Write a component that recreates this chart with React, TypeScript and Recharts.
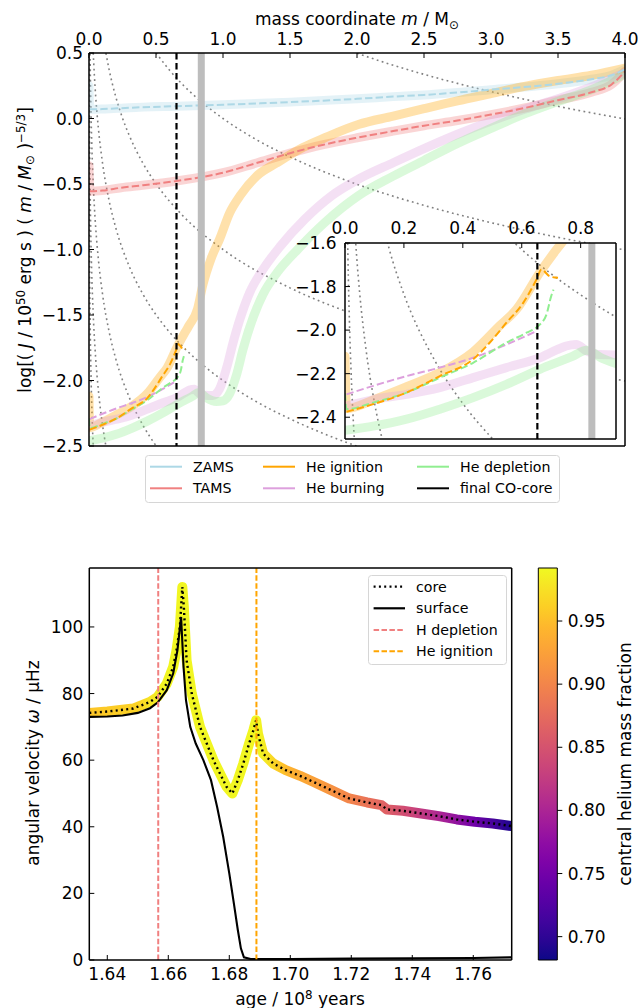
import React from 'react';
import { ComposedChart, Line, XAxis, YAxis, ReferenceLine, ReferenceArea, Legend, CartesianGrid } from 'recharts';

const FONT = '"DejaVu Sans", Verdana, sans-serif';
const FS = 17;
const LFS = 14.2;
const SUP = 11.9;

type P = [number, number];
const mv = (pts: P[]) => pts.map(([m, v]) => ({ m, v }));
const aw = (pts: P[]) => pts.map(([age, w]) => ({ age, w }));

// ---------------- top panel ----------------
const massTicks = [0, 0.5, 1, 1.5, 2, 2.5, 3, 3.5, 4];
const logJTicks = [-2.5, -2, -1.5, -1, -0.5, 0, 0.5];
const insetMassTicks = [0, 0.2, 0.4, 0.6, 0.8];
const insetLogJTicks = [-2.4, -2.2, -2.0, -1.8, -1.6];

const zamsBand: P[] = [[0, 0.25], [0.005, 0.07], [0.1, 0.072], [0.3, 0.082], [0.653, 0.094], [1.0, 0.105], [1.5, 0.125], [2.0, 0.15], [2.27, 0.167], [2.5, 0.18], [3.0, 0.22], [3.5, 0.265], [3.75, 0.3], [3.9, 0.33], [4.0, 0.375]];
const tamsBand: P[] = [[0, -0.36], [0.005, -0.555], [0.1, -0.55], [0.24, -0.528], [0.4, -0.51], [0.653, -0.477], [1.0, -0.414], [1.25, -0.34], [1.5, -0.265], [1.75, -0.2], [2.0, -0.147], [2.27, -0.096], [2.5, -0.055], [2.75, -0.015], [3.0, 0.03], [3.25, 0.08], [3.5, 0.14], [3.75, 0.2], [3.9, 0.26], [4.0, 0.36]];
const heIgnBand: P[] = [[0, -2.12], [0.005, -2.36], [0.1, -2.318], [0.209, -2.26], [0.322, -2.195], [0.435, -2.1], [0.525, -1.98], [0.582, -1.905], [0.661, -1.737], [0.718, -1.63], [0.75, -1.575], [0.81, -1.454], [0.848, -1.277], [0.911, -1.07], [0.975, -0.92], [1.05, -0.72], [1.127, -0.59], [1.25, -0.44], [1.4, -0.34], [1.6, -0.22], [1.76, -0.147], [2.01, -0.046], [2.27, 0.018], [2.5, 0.075], [2.75, 0.135], [3.0, 0.19], [3.25, 0.245], [3.5, 0.29], [3.75, 0.33], [4.0, 0.385]];
const heBurnBand: P[] = [[0, -2.35], [0.1, -2.318], [0.209, -2.295], [0.322, -2.264], [0.435, -2.218], [0.548, -2.172], [0.661, -2.127], [0.72, -2.09], [0.751, -2.073], [0.785, -2.066], [0.82, -2.096], [0.86, -2.112], [0.924, -2.114], [0.975, -2.063], [1.025, -1.911], [1.076, -1.708], [1.127, -1.53], [1.2, -1.327], [1.3, -1.15], [1.43, -0.972], [1.61, -0.769], [1.81, -0.59], [2.01, -0.464], [2.27, -0.338], [2.5, -0.23], [2.75, -0.12], [3.0, -0.02], [3.25, 0.07], [3.5, 0.15], [3.75, 0.24], [4.0, 0.35]];
const heDeplBand: P[] = [[0, -2.46], [0.1, -2.44], [0.209, -2.409], [0.322, -2.363], [0.435, -2.31], [0.548, -2.249], [0.661, -2.18], [0.774, -2.119], [0.82, -2.092], [0.873, -2.13], [0.95, -2.16], [1.0, -2.155], [1.05, -2.1], [1.1, -1.96], [1.15, -1.76], [1.23, -1.505], [1.3, -1.34], [1.405, -1.175], [1.56, -0.997], [1.76, -0.794], [2.01, -0.59], [2.27, -0.44], [2.5, -0.32], [2.75, -0.19], [3.0, -0.075], [3.25, 0.035], [3.5, 0.13], [3.75, 0.22], [4.0, 0.34]];

const zamsCore: P[] = zamsBand.slice(1);
const tamsCore: P[] = tamsBand.slice(1);
const heIgnCore: P[] = [[0.005, -2.375], [0.096, -2.34], [0.209, -2.287], [0.322, -2.211], [0.435, -2.134], [0.491, -2.058], [0.548, -1.966], [0.605, -1.875], [0.65, -1.768], [0.667, -1.722], [0.695, -1.753], [0.723, -1.76]];
const heBurnCore: P[] = [[0.005, -2.295], [0.096, -2.256], [0.209, -2.211], [0.322, -2.172], [0.435, -2.127], [0.548, -2.066], [0.65, -2.005]];
const heDeplCore: P[] = [[0, -2.29], [0.005, -2.363], [0.096, -2.333], [0.209, -2.287], [0.322, -2.218], [0.435, -2.15], [0.548, -2.058], [0.616, -2.012], [0.655, -1.982], [0.684, -1.928], [0.7, -1.844], [0.708, -1.814]];

// dotted guide curves of constant J
const isoJ1: P[] = [[2.0, 0.498], [2.25, 0.413], [2.5, 0.337], [2.75, 0.268], [3.0, 0.205], [3.25, 0.147], [3.5, 0.093], [3.75, 0.043], [4.0, -0.003]];
const isoJ0: P[] = [[0.5, 0.502], [0.6, 0.37], [0.7, 0.258], [0.85, 0.118], [1.0, 0], [1.25, -0.162], [1.5, -0.293], [1.75, -0.405], [2.0, -0.502], [2.5, -0.663], [3.0, -0.795], [3.5, -0.907], [4.0, -1.003]];
const isoJm1: P[] = [[0.126, 0.5], [0.15, 0.373], [0.2, 0.165], [0.25, 0.003], [0.3, -0.128], [0.4, -0.337], [0.5, -0.498], [0.7, -0.742], [1.0, -1.0], [1.5, -1.293], [2.0, -1.502], [2.5, -1.663], [3.0, -1.795], [3.5, -1.907], [4.0, -2.003]];
const isoJm2: P[] = [[0.0316, 0.5], [0.04, 0.33], [0.05, 0.168], [0.07, -0.075], [0.1, -0.333], [0.15, -0.627], [0.2, -0.835], [0.3, -1.128], [0.4, -1.337], [0.5, -1.498], [0.6, -1.63], [0.7, -1.742], [0.8, -1.838], [0.9, -1.924], [1.0, -2.0], [1.25, -2.162], [1.5, -2.293], [1.75, -2.405], [2.0, -2.502]];
const isoJm3: P[] = [[0.008, 0.495], [0.01, 0.333], [0.015, 0.04], [0.02, -0.168], [0.03, -0.462], [0.04, -0.67], [0.05, -0.832], [0.07, -1.075], [0.1, -1.333], [0.15, -1.627], [0.2, -1.835], [0.3, -2.128], [0.4, -2.337], [0.5, -2.498]];
const isoJm4: P[] = [[0.002, 0.498], [0.003, 0.205], [0.005, -0.165], [0.008, -0.505], [0.01, -0.667], [0.015, -0.96], [0.02, -1.168], [0.03, -1.462], [0.04, -1.67], [0.05, -1.832], [0.07, -2.075], [0.1, -2.333], [0.126, -2.5]];
const isoJm5: P[] = [[0.0005, 0.502], [0.001, 0], [0.002, -0.502], [0.003, -0.795], [0.005, -1.165], [0.008, -1.505], [0.01, -1.667], [0.015, -1.96], [0.02, -2.168], [0.025, -2.33], [0.0316, -2.5]];

const finalCoreMass = 0.653;
const heCoreMass = 0.838;

const topLegendLabels = ['ZAMS', 'TAMS', 'He ignition', 'He burning', 'He depletion', 'final CO-core'];
const topLegendColors = ['#add8e6', '#f08080', '#ffa500', '#dda0dd', '#90ee90', '#000000'];

// ---------------- bottom panel ----------------
const ageTicks = [1.64, 1.66, 1.68, 1.70, 1.72, 1.74, 1.76];
const omegaTicks = [0, 20, 40, 60, 80, 100];
const heFracTicks = [0.70, 0.75, 0.80, 0.85, 0.90, 0.95];

const coreOmega: P[] = [[1.6341, 74.2], [1.64, 74.6], [1.6485, 75.5], [1.654, 77.5], [1.6565, 79.0], [1.6595, 83], [1.6616, 88], [1.6627, 93], [1.6638, 100], [1.6646, 112], [1.6651, 106], [1.666, 90], [1.6677, 80], [1.6704, 70], [1.6748, 60], [1.6791, 52], [1.681, 50], [1.6828, 54], [1.6846, 59], [1.6865, 65], [1.6879, 69], [1.6888, 72], [1.6894, 68], [1.6911, 62], [1.6944, 59], [1.6985, 57], [1.7032, 55.3], [1.7075, 53.5], [1.7134, 51], [1.7193, 48.5], [1.7252, 47.3], [1.7299, 46.5], [1.7317, 45.2], [1.7369, 44.8], [1.7429, 44], [1.7487, 43.2], [1.7546, 42.2], [1.7605, 41.5], [1.7664, 41], [1.7726, 40.2]];
const surfaceOmega: P[] = [[1.6341, 73.0], [1.64, 73.1], [1.645, 73.4], [1.65, 74.2], [1.654, 75.6], [1.6565, 77.3], [1.6595, 81], [1.6616, 86], [1.663, 93], [1.6642, 103], [1.665, 88], [1.6658, 78], [1.6672, 70], [1.669, 65], [1.6715, 60], [1.674, 54], [1.676, 46], [1.678, 37], [1.68, 26], [1.6815, 17], [1.6828, 9], [1.6838, 3.5], [1.6848, 0.8], [1.687, 0.3], [1.70, 0.3], [1.72, 0.4], [1.74, 0.5], [1.76, 0.6], [1.7726, 0.8]];

const hDepletionAge = 1.6567;
const heIgnitionAge = 1.6889;

const heFracAges = [1.6341, 1.65, 1.6565, 1.66, 1.69, 1.693, 1.697, 1.70, 1.71, 1.72, 1.73, 1.74, 1.75, 1.76, 1.7726];
const heFracValues = [0.955, 0.965, 0.985, 0.99, 0.99, 0.975, 0.955, 0.94, 0.92, 0.898, 0.868, 0.835, 0.797, 0.75, 0.69];
const heFracMin = 0.6815;
const heFracMax = 0.992;

const bottomLegendLabels = ['core', 'surface', 'H depletion', 'He ignition'];

// plasma colormap samples
const PLASMA = ['#0d0887', '#2a0593', '#41049d', '#5601a4', '#6a00a8', '#7e03a8', '#8f0da4', '#a11b9b', '#b12a90', '#bf3984', '#cc4778', '#d6556d', '#e16462', '#ea7457', '#f2844b', '#f89540', '#fca636', '#feb72d', '#fcce25', '#f7e225', '#f0f921'];
const hex = (h: string) => [1, 3, 5].map((i) => parseInt(h.slice(i, i + 2), 16));
const plasma = (t: number) => {
  const c = Math.max(0, Math.min(1, t)) * (PLASMA.length - 1);
  const i = Math.min(Math.floor(c), PLASMA.length - 2);
  const f = c - i;
  const a = hex(PLASMA[i]);
  const b = hex(PLASMA[i + 1]);
  return `rgb(${a.map((x, k) => Math.round(x + (b[k] - x) * f)).join(',')})`;
};

const f1 = (v: number) => v.toFixed(1).replace('-', '\u2212');
const f2 = (v: number) => v.toFixed(2).replace('-', '\u2212');

const tickStyle = { fill: '#000', fontSize: FS, fontFamily: FONT };
const axLine = { stroke: '#000', strokeWidth: 1.5 };
const tkLine = { stroke: '#000', strokeWidth: 1 };

const bandProps = { type: 'monotone' as const, dot: false, activeDot: false, isAnimationActive: false, strokeWidth: 9, strokeOpacity: 0.33, strokeLinecap: 'round' as const, strokeLinejoin: 'round' as const, legendType: 'none' as const };
const dashProps = { type: 'monotone' as const, dot: false, activeDot: false, isAnimationActive: false, strokeWidth: 2, strokeDasharray: '7.4 3.2', legendType: 'none' as const };
const dotProps = { type: 'monotone' as const, dot: false, activeDot: false, isAnimationActive: false, strokeWidth: 1.6, stroke: '#808080', strokeDasharray: '1.8 3.4', legendType: 'none' as const };

const TopLegend = () => (
  <svg width={415} height={48} style={{ display: 'block' }}>
    <rect x={0.5} y={0.5} width={414} height={47} rx={3} fill="#fff" fillOpacity={0.8} stroke="#d6d6d6" />
    {topLegendLabels.map((lab, i) => {
      const col = Math.floor(i / 2);
      const row = i % 2;
      const lx = [5, 118, 272][col];
      const cy = [11.7, 33.3][row];
      return (
        <g key={lab}>
          <line x1={lx} x2={lx + 32} y1={cy} y2={cy} stroke={topLegendColors[i]} strokeWidth={2} />
          <text x={lx + 43} y={cy + 5} fontFamily={FONT} fontSize={LFS} fill="#000">{lab}</text>
        </g>
      );
    })}
  </svg>
);

const bottomLegendStyles = [
  { stroke: '#000', dash: '2 3.3', w: 2.2 },
  { stroke: '#000', dash: undefined, w: 2.2 },
  { stroke: '#f08080', dash: '5.5 2.4', w: 2 },
  { stroke: '#ffa500', dash: '5.5 2.4', w: 2 },
];

const BottomLegend = () => (
  <svg width={139} height={90} style={{ display: 'block' }}>
    <rect x={0.5} y={0.5} width={138} height={89} rx={3} fill="#fff" fillOpacity={0.8} stroke="#d6d6d6" />
    {bottomLegendLabels.map((lab, i) => {
      const cy = [11.7, 33.3, 55, 76.3][i];
      const s = bottomLegendStyles[i];
      return (
        <g key={lab}>
          <line x1={5.6} x2={37} y1={cy} y2={cy} stroke={s.stroke} strokeWidth={s.w} strokeDasharray={s.dash} />
          <text x={48} y={cy + 5} fontFamily={FONT} fontSize={LFS} fill="#000">{lab}</text>
        </g>
      );
    })}
  </svg>
);

export default function App() {
  const bandSeries = [
    { d: zamsBand, c: '#add8e6' },
    { d: tamsBand, c: '#f08080' },
    { d: heIgnBand, c: '#ffa500' },
    { d: heBurnBand, c: '#dda0dd' },
    { d: heDeplBand, c: '#90ee90' },
  ];
  const dashSeries = [
    { d: zamsCore, c: '#add8e6' },
    { d: tamsCore, c: '#f08080' },
    { d: heBurnCore, c: '#dda0dd' },
    { d: heDeplCore, c: '#90ee90' },
    { d: heIgnCore, c: '#ffa500' },
  ];
  const isoMain = [isoJ1, isoJ0, isoJm1, isoJm2, isoJm3, isoJm4, isoJm5];
  const isoInset = [isoJm2, isoJm3, isoJm4, isoJm5];
  const span = heFracAges[heFracAges.length - 1] - heFracAges[0];

  return (
    <div style={{ position: 'absolute', left: 0, top: 0, width: 638, height: 1008, background: '#fff', overflow: 'hidden' }}>
      <svg width={0} height={0} style={{ position: 'absolute' }}>
        <defs>
          <linearGradient id="plasmaBar" x1="0" y1="1" x2="0" y2="0">
            {PLASMA.map((c, i) => (
              <stop key={i} offset={i / (PLASMA.length - 1)} stopColor={c} />
            ))}
          </linearGradient>
          <linearGradient id="coreTrack" x1="0" y1="0" x2="1" y2="0">
            {heFracAges.map((a, i) => (
              <stop key={i} offset={(a - heFracAges[0]) / span} stopColor={plasma((heFracValues[i] - heFracMin) / (heFracMax - heFracMin))} />
            ))}
          </linearGradient>
        </defs>
      </svg>

      {/* main top panel */}
      <div style={{ position: 'absolute', left: 0, top: 0 }}>
        <ComposedChart width={638} height={510} margin={{ top: 20, right: 10, bottom: 61, left: 29 }}>
          <XAxis xAxisId="t" orientation="top" type="number" dataKey="m" domain={[0, 4]} ticks={massTicks} allowDataOverflow tickFormatter={f1} tickSize={-5} tickMargin={13} height={33} tick={tickStyle} axisLine={axLine} tickLine={tkLine} interval={0} />
          <XAxis xAxisId="b" orientation="bottom" type="number" dataKey="m" domain={[0, 4]} ticks={massTicks} allowDataOverflow tick={false} tickSize={-5} height={3} axisLine={axLine} tickLine={tkLine} interval={0} />
          <YAxis yAxisId="l" orientation="left" type="number" domain={[-2.5, 0.5]} ticks={logJTicks} allowDataOverflow tickFormatter={f1} tickSize={-5} tickMargin={11} width={60} tick={tickStyle} axisLine={axLine} tickLine={tkLine} interval={0} />
          <YAxis yAxisId="r" orientation="right" type="number" domain={[-2.5, 0.5]} ticks={logJTicks} allowDataOverflow tick={false} tickSize={-5} width={3} axisLine={axLine} tickLine={tkLine} interval={0} />
          {isoMain.map((d, i) => (
            <Line key={'iso' + i} data={mv(d)} dataKey="v" xAxisId="t" yAxisId="l" {...dotProps} />
          ))}
          {bandSeries.map((s, i) => (
            <Line key={'band' + i} data={mv(s.d)} dataKey="v" xAxisId="t" yAxisId="l" stroke={s.c} {...bandProps} />
          ))}
          {dashSeries.map((s, i) => (
            <Line key={'dash' + i} data={mv(s.d)} dataKey="v" xAxisId="t" yAxisId="l" stroke={s.c} {...dashProps} />
          ))}
          <ReferenceLine x={heCoreMass} xAxisId="t" yAxisId="l" stroke="#bdbdbd" strokeWidth={7} />
          <ReferenceLine x={finalCoreMass} xAxisId="t" yAxisId="l" stroke="#000" strokeWidth={2.2} strokeDasharray="6.5 3.5" />
          <Legend layout="horizontal" verticalAlign="middle" align="center" content={() => <TopLegend />} wrapperStyle={{ left: 145, top: 455, width: 415, height: 48 }} />
        </ComposedChart>
      </div>

      {/* inset */}
      <div style={{ position: 'absolute', left: 295, top: 213 }}>
        <ComposedChart width={330} height={230} margin={{ top: 0, right: 5, bottom: 2, left: 0 }}>
          <CartesianGrid xAxisId="t" yAxisId="l" horizontal={false} vertical={false} fill="#fff" fillOpacity={1} />
          <XAxis xAxisId="t" orientation="top" type="number" dataKey="m" domain={[0, 0.92]} ticks={insetMassTicks} allowDataOverflow tickFormatter={f1} tickSize={-5} tickMargin={14} height={30} tick={tickStyle} axisLine={axLine} tickLine={tkLine} interval={0} />
          <XAxis xAxisId="b" orientation="bottom" type="number" dataKey="m" domain={[0, 0.92]} ticks={insetMassTicks} allowDataOverflow tick={false} tickSize={-5} height={2} axisLine={axLine} tickLine={tkLine} interval={0} />
          <YAxis yAxisId="l" orientation="left" type="number" domain={[-2.5, -1.6]} ticks={insetLogJTicks} allowDataOverflow tickFormatter={f1} tickSize={-5} tickMargin={13.5} width={50} tick={tickStyle} axisLine={axLine} tickLine={tkLine} interval={0} />
          <YAxis yAxisId="r" orientation="right" type="number" domain={[-2.5, -1.6]} ticks={insetLogJTicks} allowDataOverflow tick={false} tickSize={-5} width={4} axisLine={axLine} tickLine={tkLine} interval={0} />
          {isoInset.map((d, i) => (
            <Line key={'iiso' + i} data={mv(d)} dataKey="v" xAxisId="t" yAxisId="l" {...dotProps} />
          ))}
          {bandSeries.slice(2).map((s, i) => (
            <Line key={'iband' + i} data={mv(s.d)} dataKey="v" xAxisId="t" yAxisId="l" stroke={s.c} {...bandProps} />
          ))}
          {dashSeries.slice(2).map((s, i) => (
            <Line key={'idash' + i} data={mv(s.d)} dataKey="v" xAxisId="t" yAxisId="l" stroke={s.c} {...dashProps} />
          ))}
          <ReferenceLine x={heCoreMass} xAxisId="t" yAxisId="l" stroke="#bdbdbd" strokeWidth={7} />
          <ReferenceLine x={finalCoreMass} xAxisId="t" yAxisId="l" stroke="#000" strokeWidth={2.2} strokeDasharray="6.5 3.5" />
        </ComposedChart>
      </div>

      {/* bottom panel */}
      <div style={{ position: 'absolute', left: 0, top: 540 }}>
        <ComposedChart width={638} height={460} margin={{ top: 25, right: 123.3, bottom: 5, left: 29.3 }}>
          <XAxis xAxisId="t" orientation="top" type="number" dataKey="age" domain={[1.6341, 1.7726]} ticks={ageTicks} allowDataOverflow tick={false} tickSize={-5} height={3} axisLine={axLine} tickLine={tkLine} interval={0} />
          <XAxis xAxisId="b" orientation="bottom" type="number" dataKey="age" domain={[1.6341, 1.7726]} ticks={ageTicks} allowDataOverflow tickFormatter={f2} tickSize={-5} tickMargin={13} height={35} tick={tickStyle} axisLine={axLine} tickLine={tkLine} interval={0} />
          <YAxis yAxisId="l" orientation="left" type="number" domain={[0, 117.7]} ticks={omegaTicks} allowDataOverflow tickSize={-5} tickMargin={11} width={60} tick={tickStyle} axisLine={axLine} tickLine={tkLine} interval={0} />
          <YAxis yAxisId="r" orientation="right" type="number" domain={[0, 117.7]} ticks={omegaTicks} allowDataOverflow tick={false} tickSize={-5} width={3} axisLine={axLine} tickLine={tkLine} interval={0} />
          <Line data={aw(coreOmega)} dataKey="w" xAxisId="b" yAxisId="l" type="linear" stroke="url(#coreTrack)" strokeWidth={10} strokeLinecap="round" strokeLinejoin="round" dot={false} activeDot={false} isAnimationActive={false} legendType="none" />
          <Line data={aw(surfaceOmega)} dataKey="w" xAxisId="b" yAxisId="l" type="linear" stroke="#000" strokeWidth={2.1} dot={false} activeDot={false} isAnimationActive={false} legendType="none" />
          <Line data={aw(coreOmega)} dataKey="w" xAxisId="b" yAxisId="l" type="linear" stroke="#000" strokeWidth={2.4} strokeDasharray="2 3.3" dot={false} activeDot={false} isAnimationActive={false} legendType="none" />
          <ReferenceLine x={hDepletionAge} xAxisId="b" yAxisId="l" stroke="#f08080" strokeWidth={2} strokeDasharray="5.5 2.4" />
          <ReferenceLine x={heIgnitionAge} xAxisId="b" yAxisId="l" stroke="#ffa500" strokeWidth={2} strokeDasharray="5.5 2.4" />
          <Legend layout="horizontal" verticalAlign="middle" align="center" content={() => <BottomLegend />} wrapperStyle={{ left: 368, top: 35, width: 139, height: 90 }} />
        </ComposedChart>
      </div>

      {/* colorbar */}
      <div style={{ position: 'absolute', left: 520, top: 540 }}>
        <ComposedChart width={118} height={460} margin={{ top: 28, right: 20.7, bottom: 40, left: 18.3 }} data={[{ x: 0 }, { x: 1 }]}>
          <XAxis type="number" dataKey="x" domain={[0, 1]} hide allowDataOverflow />
          <YAxis orientation="right" type="number" domain={[heFracMin, heFracMax]} ticks={heFracTicks} allowDataOverflow tickFormatter={f2} tickSize={5} tickMargin={5.5} width={60} tick={tickStyle} axisLine={false} tickLine={tkLine} interval={0} />
          <ReferenceArea x1={0} x2={1} y1={heFracMin} y2={heFracMax} fill="url(#plasmaBar)" fillOpacity={1} stroke="#000" strokeWidth={1} strokeOpacity={1} />
        </ComposedChart>
      </div>

      {/* axis titles */}
      <svg width={638} height={1008} style={{ position: 'absolute', left: 0, top: 0, pointerEvents: 'none' }} fontFamily={FONT} fontSize={FS} fill="#000">
        <text x={357} y={25} textAnchor="middle">
          mass coordinate <tspan fontStyle="italic">m</tspan> / M<tspan dy={3.5} fontSize={SUP}>⊙</tspan>
        </text>
        <text transform="translate(30.5,250) rotate(-90)" textAnchor="middle">
          log[( <tspan fontStyle="italic">J</tspan> / 10<tspan dy={-6} fontSize={SUP}>50</tspan>
          <tspan dy={6}> erg s ) ( </tspan>
          <tspan fontStyle="italic">m</tspan> / <tspan fontStyle="italic">M</tspan>
          <tspan dy={3.5} fontSize={SUP}>⊙</tspan>
          <tspan dy={-3.5}> )</tspan>
          <tspan dy={-6} fontSize={SUP}>−5/3</tspan>
          <tspan dy={6}>]</tspan>
        </text>
        <text x={300} y={1004.5} textAnchor="middle">
          age / 10<tspan dy={-6} fontSize={SUP}>8</tspan>
          <tspan dy={6}> years</tspan>
        </text>
        <text transform="translate(39,763) rotate(-90)" textAnchor="middle">
          angular velocity <tspan fontStyle="italic">ω</tspan> / μHz
        </text>
        <text transform="translate(631,764) rotate(-90)" textAnchor="middle">
          central helium mass fraction
        </text>
      </svg>
    </div>
  );
}
